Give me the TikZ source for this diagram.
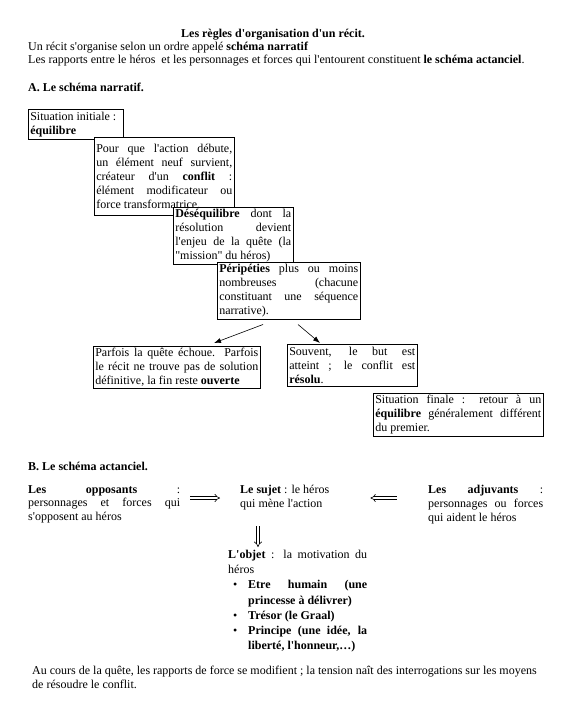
\documentclass[tikz,border=0pt]{standalone}
\usepackage{fontspec}
\setmainfont{Liberation Serif}[Ligatures=TeXOff]
\usetikzlibrary{arrows.meta}
\newcommand{\puce}{\hspace*{5pt}\makebox[15pt][l]{\textbullet}}

\begin{document}
\begin{tikzpicture}
    [
    x=1pt, y=-1pt,
    every node/.style={font=\fontsize{12}{13.8}\selectfont},
    texte/.style={anchor=north west, inner sep=0pt, align=justify},
    ligne/.style={anchor=base west, inner sep=0pt},
    etape/.style={draw, line width=0.6pt, fill=white, anchor=north west, inner sep=2pt, align=justify, font=\fontsize{12}{14}\selectfont},
    fleche/.style={line width=0.6pt, -{Latex[length=7pt,width=5pt]}},
    implique/.style={line width=0.6pt, double, double distance=2.2pt, -{Implies}},
    ]
    \useasboundingbox (0,0) rectangle (580,723);

    % en-tete
    \node[ligne, anchor=base, font=\fontsize{12}{13.8}\bfseries] (txt_titre) at (273,37) {Les règles d'organisation d'un récit.};
    \node[ligne] (txt_intro) at (28,50) {Un récit s'organise selon un ordre appelé \textbf{schéma narratif}};
    \node[ligne] (txt_rapports) at (28,63) {Les rapports entre le héros\ \ et les personnages et forces qui l'entourent constituent \textbf{le schéma actanciel}.};

    % A. schema narratif
    \node[ligne] (txt_partieA) at (28,91) {\textbf{A. Le schéma narratif.}};

    \node[etape, text width=91pt, minimum height=30pt] (etp_initiale) at (28,109)
    {Situation initiale :\\\textbf{équilibre}};

    \node[etape, text width=136pt, minimum height=78pt] (etp_conflit) at (94,137)
    {Pour que l'action débute,\linebreak un élément neuf survient,\linebreak créateur d'un \textbf{conflit} :\linebreak élément modificateur ou\linebreak force transformatrice.};

    \node[etape, text width=116pt, minimum height=55pt] (etp_desequilibre) at (173,207)
    {\textbf{Déséquilibre} dont la\linebreak résolution devient\linebreak l'enjeu de la quête (la\linebreak "mission" du héros)};

    \node[etape, text width=139pt, minimum height=56pt] (etp_peripeties) at (217,262)
    {\textbf{Péripéties} plus ou moins\linebreak nombreuses (chacune\linebreak constituant une séquence\linebreak narrative).};

    \node[etape, text width=163pt, minimum height=41pt] (etp_echec) at (93,346)
    {Parfois la quête échoue. Parfois\linebreak le récit ne trouve pas de solution\linebreak définitive, la fin reste \textbf{ouverte}};

    \node[etape, text width=126pt, minimum height=42pt] (etp_reussite) at (287,344)
    {Souvent, le but est\linebreak atteint ; le conflit est\linebreak \textbf{résolu}.};

    \node[etape, text width=166pt, minimum height=39pt] (etp_finale) at (373,393)
    {Situation finale : retour à un\linebreak \textbf{équilibre} généralement différent\linebreak du premier.};

    \draw[fleche] ([xshift=46pt, yshift=-5pt]etp_peripeties.south west) -- ([xshift=121pt, yshift=3pt]etp_echec.north west);
    \draw[fleche] ([xshift=81pt, yshift=-5pt]etp_peripeties.south west) -- ([xshift=33pt, yshift=1pt]etp_reussite.north west);

    % B. schema actanciel
    \node[ligne] (txt_partieB) at (28,470) {\textbf{B. Le schéma actanciel.}};

    \node[texte, text width=152pt] (txt_opposants) at (28,485)
    {\textbf{Les opposants} :\linebreak personnages et forces qui\linebreak s'opposent au héros};

    \node[texte, text width=100pt] (txt_sujet) at (240,485)
    {\textbf{Le sujet} : le héros\\qui mène l'action};

    \node[texte, text width=115pt] (txt_adjuvants) at (428,485)
    {\textbf{Les adjuvants} :\linebreak personnages ou forces\linebreak qui aident le héros};

    \node[texte, text width=139pt, font=\fontsize{12}{15.2}\selectfont] (txt_objet) at (228,550)
    {\textbf{L'objet} : la motivation du\linebreak héros\\
    \puce\makebox[119pt][s]{\textbf{Etre humain (une}}\\
    \hspace*{20pt}\textbf{princesse à délivrer)}\\
    \puce\textbf{Trésor (le Graal)}\\
    \puce\makebox[119pt][s]{\textbf{Principe (une idée, la}}\\
    \hspace*{20pt}\textbf{liberté, l'honneur,\dots)}};

    \draw[implique, shorten <=10pt, shorten >=20pt] ([yshift=-13pt]txt_opposants.north east) -- ([yshift=-13pt]txt_sujet.north west);
    \draw[implique, shorten <=31pt, shorten >=30pt] ([yshift=-13pt]txt_adjuvants.north west) -- ([yshift=-13pt]txt_sujet.north east);
    \draw[implique, shorten <=16pt, shorten >=3pt] ([xshift=18pt]txt_sujet.south west) -- ([xshift=30pt]txt_objet.north west);

    % conclusion
    \node[texte, text width=530pt, font=\fontsize{12}{14}\selectfont] (txt_conclusion) at (32,666)
    {Au cours de la quête, les rapports de force se modifient ; la tension naît des interrogations sur les moyens\\de résoudre le conflit.};
\end{tikzpicture}
\end{document}
